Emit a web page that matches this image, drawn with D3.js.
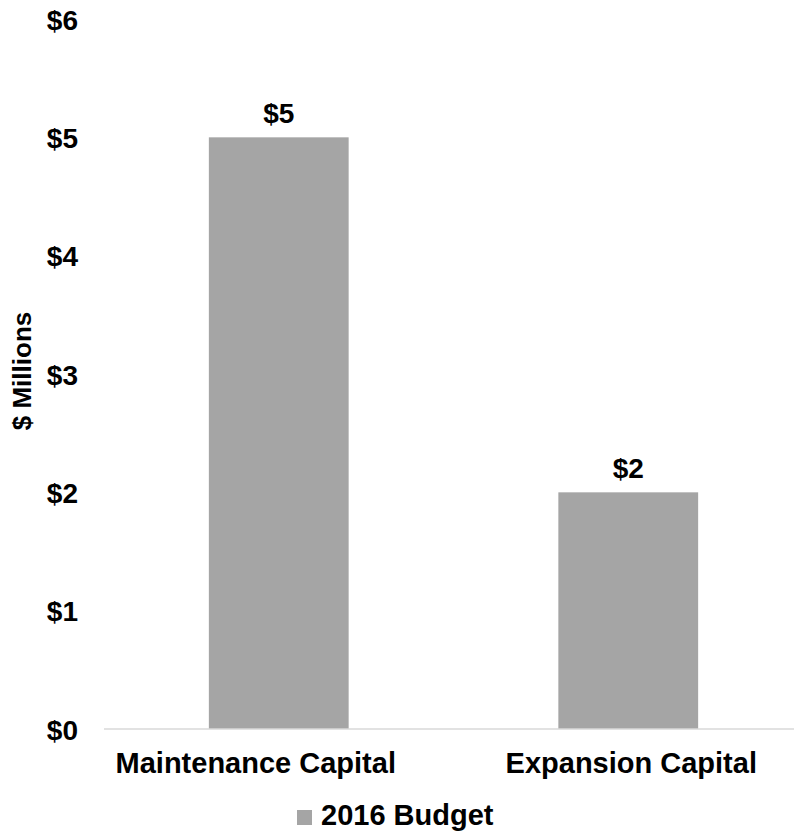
<!DOCTYPE html>
<html>
<head>
<meta charset="utf-8">
<script src="https://cdn.jsdelivr.net/npm/d3@7"></script>
<style>
  html, body { margin: 0; padding: 0; background: #fff; }
  svg { display: block; font-family: "Liberation Sans", Arial, sans-serif; font-weight: bold; }
</style>
</head>
<body>
<svg id="chart" width="794" height="832"></svg>
<script>
// Capital budget, $ millions
const categories = ["Maintenance Capital", "Expansion Capital"];
const budget2016 = [5, 2];
const yTicks = [0, 1, 2, 3, 4, 5, 6];
const seriesName = "2016 Budget";
const yTitle = "$ Millions";

const svg = d3.select("#chart");
const barColor = "#a5a5a5";

const x = d3.scaleBand()
  .domain(categories)
  .range([104, 803])
  .paddingInner(0.6)
  .paddingOuter(0.3);

const y = d3.scaleLinear()
  .domain([0, 6])
  .range([729, 19]);

// Value axis labels
const yAxis = svg.append("g")
  .attr("transform", "translate(78,0)")
  .call(d3.axisLeft(y).tickValues(yTicks).tickSize(0).tickPadding(0).tickFormat(d => "$" + d));
yAxis.select(".domain").remove();
yAxis.selectAll("text")
  .attr("font-size", 28)
  .attr("font-family", "Liberation Sans, Arial, sans-serif")
  .attr("font-weight", "bold")
  .attr("fill", "#000")
  .attr("dy", "0.36em");

// Bars
svg.append("g").selectAll("rect")
  .data(categories)
  .join("rect")
  .attr("x", d => x(d))
  .attr("width", x.bandwidth())
  .attr("y", (d, i) => y(budget2016[i]))
  .attr("height", (d, i) => y(0) - y(budget2016[i]))
  .attr("fill", barColor);

// Baseline
svg.append("line")
  .attr("x1", 104).attr("x2", 794)
  .attr("y1", y(0)).attr("y2", y(0))
  .attr("stroke", "#d9d9d9")
  .attr("stroke-width", 1.5);

// Value labels above bars
svg.append("g").selectAll("text")
  .data(categories)
  .join("text")
  .attr("x", d => x(d) + x.bandwidth() / 2)
  .attr("y", (d, i) => y(budget2016[i]) - 14)
  .attr("text-anchor", "middle")
  .attr("font-size", 28)
  .attr("fill", "#000")
  .text((d, i) => "$" + budget2016[i]);

// Category axis
const xAxis = svg.append("g")
  .attr("transform", `translate(0,${y(0)})`)
  .call(d3.axisBottom(x).tickSize(0).tickPadding(0));
xAxis.select(".domain").remove();
xAxis.selectAll("text")
  .attr("font-size", 29)
  .attr("font-family", "Liberation Sans, Arial, sans-serif")
  .attr("font-weight", "bold")
  .attr("fill", "#000")
  .attr("dy", null)
  .attr("y", 44)
  .attr("dx", (d, i) => i === 0 ? -23 : 3);

// Axis title
svg.append("text")
  .attr("transform", "translate(31,371) rotate(-90)")
  .attr("text-anchor", "middle")
  .attr("font-size", 26)
  .attr("fill", "#000")
  .text(yTitle);

// Legend
const legend = svg.append("g").attr("transform", "translate(297,810)");
legend.append("rect")
  .attr("width", 15).attr("height", 15)
  .attr("fill", barColor);
legend.append("text")
  .attr("x", 24).attr("y", 15)
  .attr("font-size", 29)
  .attr("fill", "#000")
  .text(seriesName);
</script>
</body>
</html>
